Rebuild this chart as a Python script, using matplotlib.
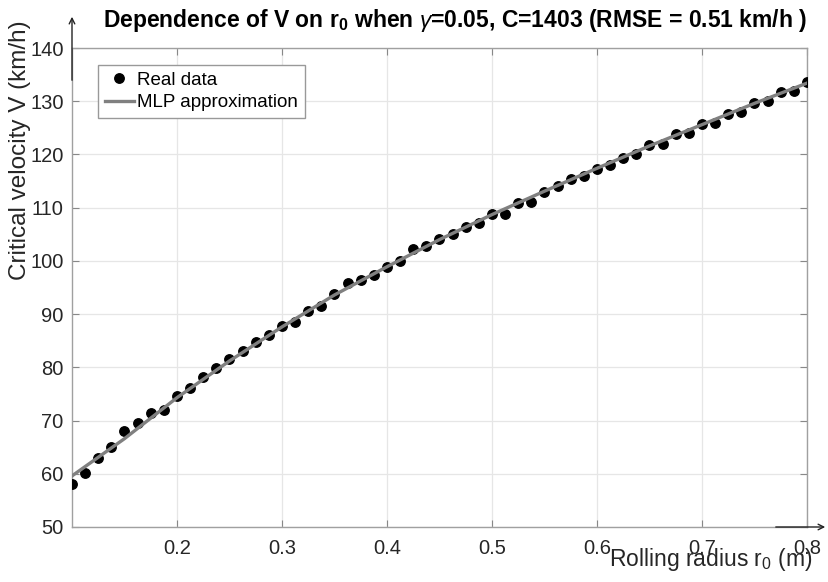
import numpy as np
import matplotlib
matplotlib.use("Agg")
import matplotlib.pyplot as plt

plt.rcParams['font.family'] = ['Liberation Sans', 'DejaVu Sans']
plt.rcParams['mathtext.fontset'] = 'custom'
plt.rcParams['mathtext.rm'] = 'Liberation Sans'
plt.rcParams['mathtext.it'] = 'Liberation Sans:italic'
plt.rcParams['mathtext.bf'] = 'Liberation Sans:bold'

# real data (rolling radius, critical velocity)
r0 = [0.1, 0.1125, 0.125, 0.1375, 0.15, 0.1625, 0.175, 0.1875, 0.2, 0.2125,
      0.225, 0.2375, 0.25, 0.2625, 0.275, 0.2875, 0.3, 0.3125, 0.325, 0.3375,
      0.35, 0.3625, 0.375, 0.3875, 0.4, 0.4125, 0.425, 0.4375, 0.45, 0.4625,
      0.475, 0.4875, 0.5, 0.5125, 0.525, 0.5375, 0.55, 0.5625, 0.575, 0.5875,
      0.6, 0.6125, 0.625, 0.6375, 0.65, 0.6625, 0.675, 0.6875, 0.7, 0.7125,
      0.725, 0.7375, 0.75, 0.7625, 0.775, 0.7875, 0.8]
V_real = [58.1, 60.1, 63.0, 65.1, 68.0, 69.6, 71.5, 72.0, 74.7, 76.2,
          78.1, 79.9, 81.6, 83.1, 84.8, 86.1, 87.8, 88.5, 90.6, 91.5,
          93.8, 95.9, 96.5, 97.3, 98.9, 100.0, 102.2, 102.8, 104.1, 105.1,
          106.4, 107.1, 108.8, 108.9, 110.8, 111.1, 113.0, 114.1, 115.3, 116.0,
          117.3, 118.0, 119.3, 120.0, 121.8, 122.0, 123.8, 124.1, 125.7, 126.0,
          127.6, 128.0, 129.6, 130.0, 131.7, 131.9, 133.7]

# MLP approximation
r0_mlp = [0.1, 0.15, 0.2, 0.25, 0.3, 0.35, 0.4, 0.45, 0.5, 0.55, 0.6, 0.65, 0.7, 0.75, 0.8]
V_mlp = [59.6, 66.6, 74.3, 81.2, 87.6, 93.6, 98.9, 104.0, 108.7, 113.1,
         117.4, 121.6, 125.6, 129.6, 133.4]

xticks = [0.2, 0.3, 0.4, 0.5, 0.6, 0.7, 0.8]
yticks = [50, 60, 70, 80, 90, 100, 110, 120, 130, 140]

W, H = 829, 582
fig = plt.figure(figsize=(W / 100, H / 100), dpi=100)
ax = fig.add_axes([72 / W, 1 - 527 / H, (807 - 72) / W, (527 - 48) / H])

ax.plot(r0, V_real, 'o', color='black', markersize=6.8, label='Real data', zorder=3)
ax.plot(r0_mlp, V_mlp, '-', color='#808080', linewidth=2.4, label='MLP approximation', zorder=4)

ax.set_xlim(0.1, 0.8)
ax.set_ylim(50, 140)
ax.set_xticks(xticks)
ax.set_xticklabels([str(t) for t in xticks])
ax.set_yticks(yticks)
ax.grid(True, color='#e6e6e6', linewidth=0.9)
ax.set_axisbelow(True)
ax.tick_params(direction='in', length=5, width=0.8, color='#888888',
               top=True, right=True, labelsize=14.5, labelcolor='#262626')
ax.tick_params(axis='x', pad=9)
ax.tick_params(axis='y', pad=6)
for s in ax.spines.values():
    s.set_color('#a0a0a0')
    s.set_linewidth(1.0)

leg = ax.legend(loc='upper left', bbox_to_anchor=(26 / 735, 1 - 17 / 479),
                fontsize=13.5, frameon=True, fancybox=False, framealpha=1,
                edgecolor='#999999', handlelength=1.55, handletextpad=0.2,
                borderpad=0.35, labelspacing=0.3, borderaxespad=0)
leg.get_frame().set_linewidth(1.0)

# axis arrows
ax.annotate('', xy=(72, H - 14), xytext=(72, H - 83), xycoords='figure pixels',
            textcoords='figure pixels',
            arrowprops=dict(arrowstyle='->', color='#222222', lw=1.0))
ax.annotate('', xy=(828, H - 527), xytext=(773, H - 527), xycoords='figure pixels',
            textcoords='figure pixels',
            arrowprops=dict(arrowstyle='->', color='#222222', lw=1.0))

fig.text(455 / W, 1 - 27 / H,
         r'Dependence of V on $\mathbf{r}_{\mathbf{0}}$ when $\gamma$=0.05, C=1403 (RMSE = 0.51 km/h )',
         ha='center', va='baseline', fontsize=16.5, fontweight='bold', color='black')
fig.text(812 / W, 1 - 566 / H, r'Rolling radius r$_{0}$ (m)',
         ha='right', va='baseline', fontsize=16.5, color='#262626')
fig.text(20 / W, 1 - 20 / H, 'Critical velocity V (km/h)', rotation=90,
         ha='center', va='top', fontsize=17.5, color='#262626')

fig.savefig('out.png', dpi=100)
